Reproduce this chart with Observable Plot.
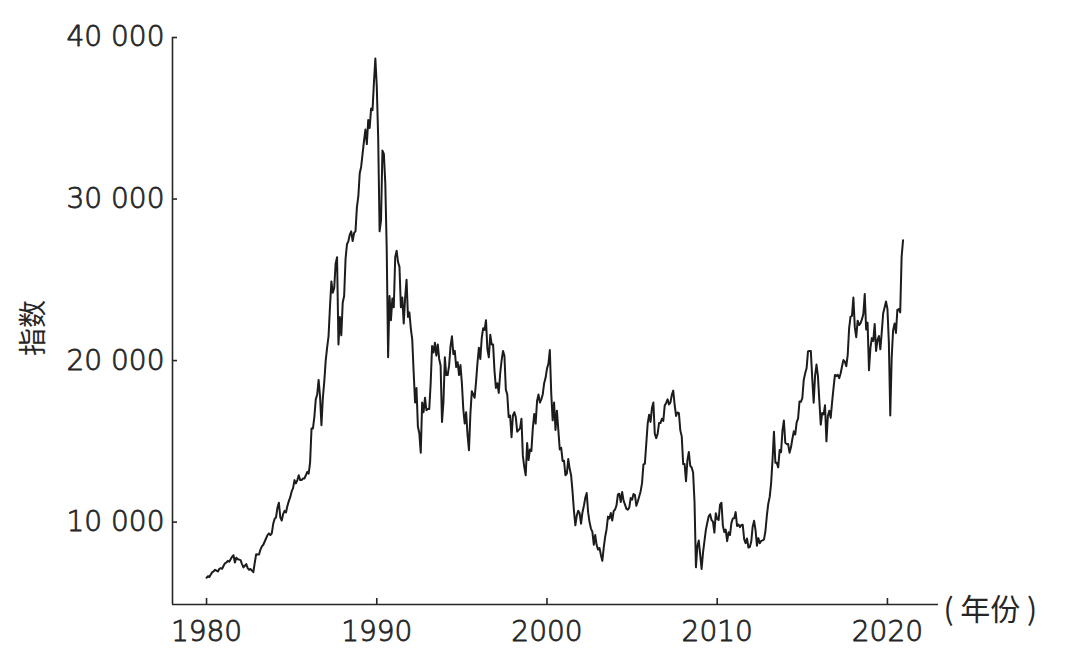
<!DOCTYPE html>
<html>
<head>
<meta charset="utf-8">
<script src="https://cdn.jsdelivr.net/npm/d3@7"></script>
<script src="https://cdn.jsdelivr.net/npm/@observablehq/plot@0.6"></script>
<style>
  html, body { margin: 0; padding: 0; background: #fff; }
  #chart { width: 1068px; height: 662px; }
</style>
</head>
<body>
<div id="chart"></div>
<script>
// Nikkei 225, approximate month-end closes, Jan 1980 – Dec 2020
const startYear = 1980;
const closes1980s = [
  6560, 6650, 6600, 6750, 6900, 6950, 7050, 7000, 6950, 7100, 7150, 7116,
  7300, 7450, 7500, 7600, 7550, 7700, 7850, 7950, 7500, 7800, 7700, 7681,
  7650, 7400, 7200, 7300, 7400, 7150, 7050, 7100, 7000, 6900, 7500, 8016,
  8000, 8000, 8300, 8500, 8600, 8800, 9000, 9200, 9300, 9200, 9300, 9893,
  10200, 10300, 10900, 11200, 10300, 10100, 10500, 10700, 10600, 11000, 11300, 11542,
  11900, 12100, 12600, 12400, 12600, 12900, 12600, 12600, 12700, 12700, 12900, 13113,
  13000, 13700, 15800, 15800, 16500, 17600, 17900, 18800, 17800, 16000, 17700, 18701,
  20000, 20800, 21500, 23300, 24900, 24200, 24500, 26000, 26400, 21000, 22700, 21564,
  23600, 24000, 26300, 27200, 27400, 27800, 28000, 27400, 27900, 28000, 29500, 30159,
  31600, 32000, 32800, 33600, 34300, 33400, 34900, 34400, 35600, 35500, 37200, 38700
];
const closes1990s = [
  37000, 33800, 28000, 28700, 33000, 32800, 31000, 27000, 20200, 24000, 22500, 23849,
  23300, 26400, 26800, 26100, 25800, 23300, 23900, 22300, 23900, 25000, 22700, 22984,
  22000, 21300, 19300, 17400, 18300, 15900, 15500, 14300, 17400, 16800, 17700, 16925,
  17000, 17000, 18600, 20900, 20500, 21100, 20300, 21000, 20100, 19700, 16200, 17417,
  20200, 19100, 19100, 19700, 20900, 21500, 20400, 20600, 19600, 19900, 19100, 19723,
  18600, 17000, 16100, 16800, 15400, 14450, 16700, 18100, 17900, 17700, 18700, 19868,
  20800, 20100, 21400, 22000, 21900, 22500, 20700, 20200, 21600, 21000, 21000, 19361,
  18300, 18600, 18000, 19200, 20000, 20600, 20300, 18200, 17900, 16500, 16600, 15259,
  16600, 16800, 16500, 15600, 15700, 15800, 16400, 14100, 13400, 12900, 14900, 13842,
  14500, 14400, 15800, 16700, 16100, 17500, 17900, 17400, 17600, 17900, 18600, 18934
];
const closes2000s = [
  19500, 19800, 20650, 17970, 16300, 17400, 15700, 16900, 15700, 14500, 14600, 13786,
  13800, 12900, 13000, 13900, 13300, 12900, 11900, 10700, 9800, 10400, 10700, 10543,
  9900, 10600, 11000, 11500, 11800, 10600, 10000, 9600, 9400, 8600, 9200, 8579,
  8300, 8400, 7970, 7600, 8420, 9080, 9560, 10340, 10220, 10560, 10100, 10677,
  10780, 11040, 11720, 11760, 11240, 11860, 11330, 11080, 10820, 10770, 10900, 11489,
  11390, 11740, 11670, 11010, 11280, 11580, 11900, 12410, 13570, 13610, 14870, 16111,
  16650, 16200, 17060, 17400, 15470, 15200, 15460, 16140, 16130, 16400, 16270, 17226,
  17380, 17600, 17290, 17400, 17880, 18140, 17250, 16570, 16790, 16740, 15680, 15307,
  13590, 13600, 12530, 13850, 14340, 13480, 13380, 13070, 11260, 7200, 8510, 8860,
  7990, 7100, 8110, 8830, 9520, 9960, 10360, 10490, 10130, 10030, 9350, 10546
];
const closes2010s = [
  10200, 10130, 11090, 11200, 9770, 9380, 9540, 8820, 9370, 9200, 9940, 10229,
  10240, 10620, 9760, 9850, 9690, 9820, 9830, 8950, 8700, 8990, 8430, 8455,
  8800, 9720, 10080, 9520, 8540, 9010, 8700, 8840, 8870, 8930, 9450, 10395,
  11140, 11560, 12400, 13860, 15600, 13680, 13670, 13390, 14460, 14330, 15660, 16291,
  14910, 14840, 14830, 14300, 14630, 15160, 15620, 15420, 16170, 16410, 17460, 17451,
  17670, 18800, 19210, 19520, 20560, 20600, 20590, 18890, 17390, 19080, 19750, 19034,
  17520, 16030, 16760, 16670, 17230, 15000, 16570, 16890, 16450, 17430, 18310, 19114,
  19040, 19120, 18910, 19200, 19650, 20030, 19930, 19650, 20360, 22010, 22720, 22765,
  23900, 22070, 21450, 22470, 22200, 22300, 22550, 22870, 24120, 21920, 22350, 19400,
  20770, 21390, 21210, 22260, 20600, 21280, 21520, 20700, 21760, 22930, 23290, 23657
];
const closes2020 = [
  23200, 21140, 16600, 20190, 21880, 22290, 21710, 23140, 23190, 22980, 26430, 27444
];

const xTicks = [1980, 1990, 2000, 2010, 2020];
const yTicks = [10000, 20000, 30000, 40000];
const xDomain = [1978, 2023];
const yDomain = [4900, 40000];
const yLabel = "指数";
const xLabel = "( 年份 )";

const closes = [...closes1980s, ...closes1990s, ...closes2000s, ...closes2010s, ...closes2020];
const series = closes.map((v, i) => ({ t: startYear + i / 12, v }));

const fmt = d => d3.format(",")(d).replace(/,/g, " ");
const ink = "#262626";
const tickFont = "'DejaVu Sans', 'Liberation Sans', sans-serif";
const labelStyle = { fontFamily: tickFont, fontSize: 28, fontWeight: 200, fill: ink, stroke: ink, strokeWidth: 0.8 };

const chart = Plot.plot({
  width: 1068,
  height: 662,
  marginLeft: 172,
  marginRight: 130,
  marginTop: 37,
  marginBottom: 58,
  style: { fontFamily: tickFont, fontSize: "28px", color: ink, background: "#fff" },
  x: { domain: xDomain, axis: null },
  y: { domain: yDomain, axis: null },
  marks: [
    Plot.text(yTicks, { x: xDomain[0], y: d => d, text: fmt, textAnchor: "end", dx: -8, ...labelStyle }),
    Plot.text(xTicks, { x: d => d, y: yDomain[0], text: d => String(d), lineAnchor: "top", dy: 17, ...labelStyle }),
    Plot.ruleX([xDomain[0]], { stroke: ink, strokeWidth: 1.6 }),
    Plot.ruleY([yDomain[0]], { stroke: ink, strokeWidth: 1.6 }),
    Plot.ruleY(yTicks, { x1: xDomain[0], x2: xDomain[0], insetRight: -5, stroke: ink, strokeWidth: 1.6 }),
    Plot.ruleX(xTicks, { y1: yDomain[0], y2: yDomain[0], insetBottom: 6, stroke: ink, strokeWidth: 1.6 }),
    Plot.line(series, { x: "t", y: "v", stroke: "#1c1c1c", strokeWidth: 2, strokeLinejoin: "round" }),
    Plot.text([yLabel], { frameAnchor: "left", dx: -138, dy: 35, rotate: -90, fontFamily: "'Noto Sans CJK SC', sans-serif", fontSize: 28, fill: ink }),
    Plot.text([xLabel], { frameAnchor: "bottom-right", textAnchor: "start", lineAnchor: "middle", dx: 5, dy: 6, fontFamily: "'Noto Sans CJK SC', sans-serif", fontSize: 30, fill: ink })
  ]
});
document.getElementById("chart").appendChild(chart);
</script>
</body>
</html>
